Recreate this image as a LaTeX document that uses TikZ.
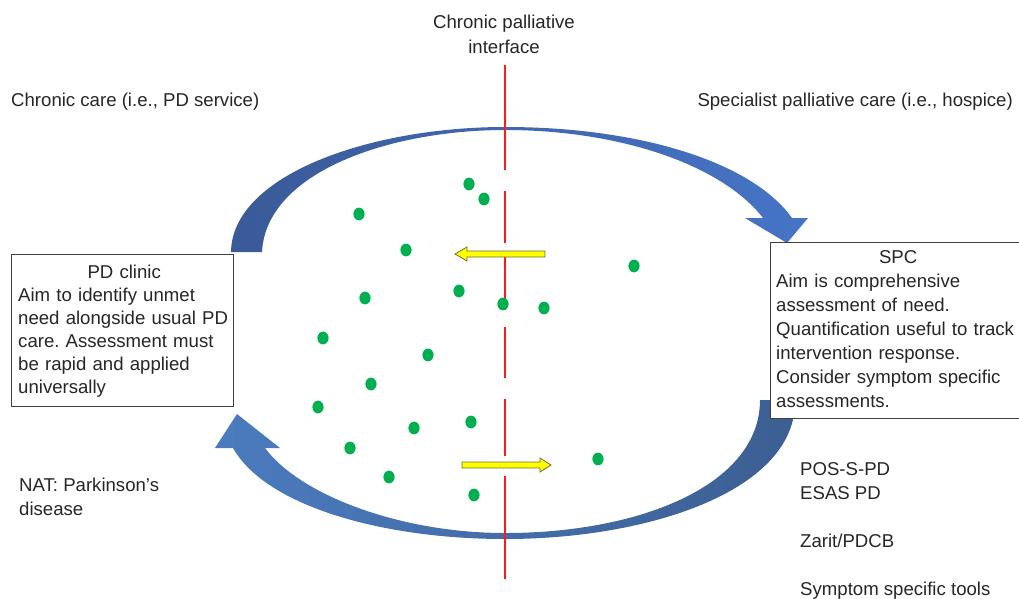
\documentclass[tikz,border=0pt]{standalone}
\usepackage{fontspec}
\setmainfont{Liberation Sans}
\frenchspacing
\definecolor{txt}{HTML}{262626}
\definecolor{upL}{HTML}{3A5A98}
\definecolor{upR}{HTML}{4674C6}
\definecolor{loL}{HTML}{4B7BBE}
\definecolor{loR}{HTML}{3C5F92}
\definecolor{dotgreen}{HTML}{00B050}
\definecolor{yel}{HTML}{FFFF00}
\definecolor{yelline}{HTML}{6E6E3C}
\definecolor{boxline}{HTML}{404040}
\definecolor{ifred}{HTML}{FF1A1A}
\begin{document}
\begin{tikzpicture}[x=1pt,y=-1pt,
  lbl/.style={inner sep=0pt, text=txt, font=\fontsize{18.6}{23}\selectfont},
  boxnode/.style={draw=boxline, line width=0.8pt, fill=white, inner sep=0pt},
  gdot/.style={fill=dotgreen},
  yarrow/.style={fill=yel, draw=yelline, line width=0.8pt, line join=miter},
  redline/.style={draw=ifred, line width=1.2pt}]
\useasboundingbox (0,0) rectangle (1019,598);
\clip (0,0) rectangle (1019,598);

% big curved arrows
\shade[left color=upL, right color=upR]
 (231,252) .. controls (232,175) and (370,127) .. (505,127)
 .. controls (640,127) and (752,162) .. (792,218)
 -- (808,218) -- (787,243) -- (745,218) -- (763,218)
 .. controls (722,165) and (620,130) .. (505,130)
 .. controls (390,130) and (266,172) .. (262,252) -- cycle;
\shade[left color=loL, right color=loR]
 (795,400) .. controls (797,490) and (650,539) .. (505,539)
 .. controls (380,539) and (265,505) .. (233,448)
 -- (215,448) -- (237,414) -- (280,448) -- (265,448)
 .. controls (300,495) and (400,533) .. (505,533)
 .. controls (640,533) and (760,485) .. (760,400) -- cycle;

% red interface line
\foreach \a/\b in {65/170,191/243,253/310,327/378,399/456,476/579}
  \draw[redline] (505,\a) -- (505,\b);

% boxes
\node[boxnode, minimum width=222pt, minimum height=152pt] (pdbox) at (122,330) {};
\node[boxnode, minimum width=256pt, minimum height=176pt] (spcbox) at (898,330) {};

\node[lbl, anchor=north west, text width=212pt] (pdtext) at (18,265)
 {{\centering PD clinic\par}\raggedright Aim to identify unmet\\need alongside usual PD\\care. Assessment must\\be rapid and applied\\universally};
\node[lbl, anchor=north west, text width=244pt, font=\fontsize{18.6}{24}\selectfont] (spctext) at (776,250)
 {{\centering SPC\par}\raggedright Aim is comprehensive\\assessment of need.\\Quantification useful to track\\intervention response.\\Consider symptom specific\\assessments.};

% green dots
\foreach \x/\y in {469/184,484/199,359/214,406/250,634/266,459/291,365/298,503/304,544/308,323/338,428/355,371/384,318/407,471/422,414/428,350/448,598/459,389/477,474/495}
  \fill[gdot] (\x,\y) ellipse [x radius=5.6pt, y radius=6.4pt];

% yellow arrows
\draw[yarrow] (545,251) -- (467,251) -- (467,247) -- (455,254) -- (467,261) -- (467,257) -- (545,257) -- cycle;
\draw[yarrow] (462,462) -- (540,462) -- (540,458) -- (551,465) -- (540,472) -- (540,468) -- (462,468) -- cycle;

% labels
\node[lbl, align=center, anchor=north, font=\fontsize{18.6}{25}\selectfont] (iface) at (504,15) {Chronic palliative\\interface};
\node[lbl, anchor=base west] (chronic) at (11,106) {Chronic care (i.e., PD service)};
\node[lbl, anchor=base east] (spec) at (1013,106) {Specialist palliative care (i.e., hospice)};
\node[lbl, align=left, anchor=north west, font=\fontsize{18.6}{24}\selectfont] (nat) at (19,478) {NAT: Parkinson’s\\disease};
\node[lbl, align=left, anchor=north west, font=\fontsize{18.6}{24}\selectfont] (tools) at (800,462)
 {POS-S-PD\\ESAS PD\\[24pt]Zarit/PDCB\\[24pt]Symptom specific tools};
\end{tikzpicture}
\end{document}
